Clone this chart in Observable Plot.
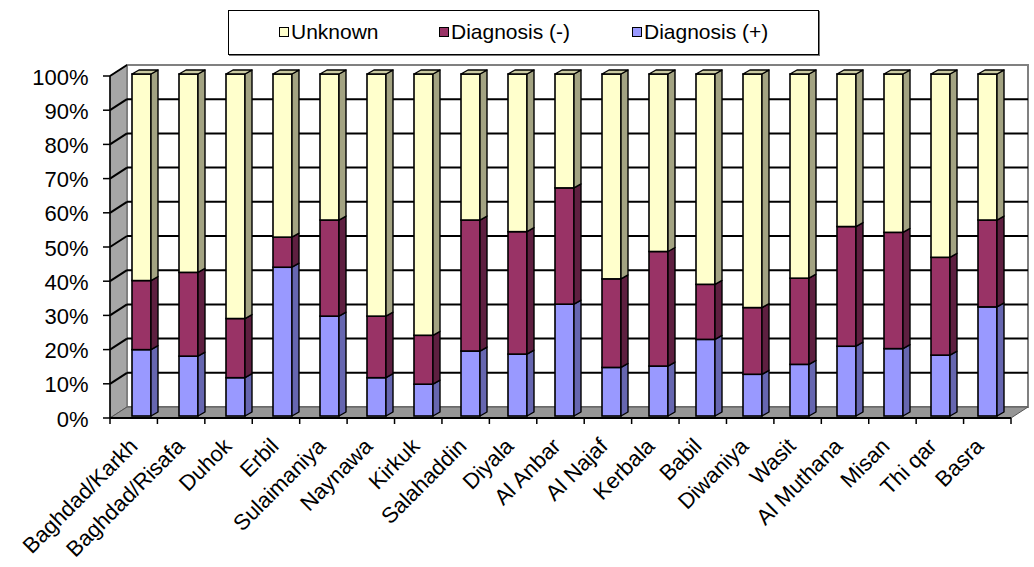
<!DOCTYPE html>
<html>
<head>
<meta charset="utf-8">
<script src="https://cdn.jsdelivr.net/npm/d3@7"></script>
<script src="https://cdn.jsdelivr.net/npm/@observablehq/plot@0.6"></script>
<style>
  html, body { margin: 0; padding: 0; background: #fff; }
  body { width: 1034px; height: 567px; overflow: hidden; font-family: "Liberation Sans", Arial, sans-serif; }
  #legend { position: relative; width: 1034px; height: 60px; }
  #legend .box { position: absolute; left: 228px; top: 10px; width: 589px; height: 43px;
    border: 1px solid #000; box-shadow: 1px 1px 0 #777; background: #fff; }
  #legend .item { position: absolute; top: 20px; font-size: 21px; line-height: 23px; color: #000; white-space: nowrap; }
  #legend .sw { display: inline-block; width: 8px; height: 8px; border: 1.5px solid #000; margin-right: 2px; vertical-align: 2px; }
  #chart svg { display: block; }
</style>
</head>
<body>
<div id="legend"></div>
<div id="chart"></div>
<script>
// Governorates along the x axis
const regions = ["Baghdad/Karkh", "Baghdad/Risafa", "Duhok", "Erbil", "Sulaimaniya", "Naynawa",
  "Kirkuk", "Salahaddin", "Diyala", "Al Anbar", "Al Najaf", "Kerbala", "Babil", "Diwaniya",
  "Wasit", "Al Muthana", "Misan", "Thi qar", "Basra"];

// Share of cases (%) in each diagnostic status, per governorate
const diagnosisPos = [19.4, 17.5, 11.2, 43.5, 29.2, 11.2, 9.3, 19.0, 18.1, 32.7, 14.2, 14.6, 22.4, 12.2, 15.1, 20.4, 19.7, 17.8, 31.9];
const diagnosisNeg = [20.2, 24.5, 17.3, 8.8, 28.1, 18.0, 14.3, 38.3, 35.8, 34.0, 25.9, 33.5, 16.1, 19.5, 25.2, 35.0, 34.0, 28.6, 25.4];
const unknown      = [60.4, 58.0, 71.5, 47.7, 42.7, 70.8, 76.4, 42.7, 46.1, 33.3, 59.9, 51.9, 61.5, 68.3, 59.7, 44.6, 46.3, 53.6, 42.7];

// Stack order (bottom to top) and legend order
const statuses = ["Diagnosis (+)", "Diagnosis (-)", "Unknown"];
const legendOrder = ["Unknown", "Diagnosis (-)", "Diagnosis (+)"];
const frontColors = ["#9999FF", "#993366", "#FFFFCC"];
const sideColors  = ["#6666B0", "#5E1F40", "#A3A382"];
const topColor = "#CCCCA3";

const yTicks = [0, 10, 20, 30, 40, 50, 60, 70, 80, 90, 100];

const series = [diagnosisPos, diagnosisNeg, unknown];
const rows = regions.flatMap((region, i) =>
  statuses.map((status, s) => ({region, status, value: series[s][i]})));

const font = "Liberation Sans, Arial, sans-serif";

// Depth offsets of the pseudo-3D box (pixels): front edge and back wall
const FRONT = [-4, 2], BACK = [13, -9], BAR_DEPTH = [7, -4];

const plot = Plot.plot({
  width: 1034,
  height: 507,
  marginLeft: 114,
  marginRight: 19,
  marginTop: 14,
  marginBottom: 151,
  style: {fontFamily: font, background: "transparent", overflow: "visible"},
  x: {domain: regions, paddingInner: 0.6, paddingOuter: 0.3, axis: null},
  y: {domain: [0, 100], axis: null},
  color: {domain: statuses, range: frontColors},
  marks: [
    Plot.barY(rows, {x: "region", y: "value", fill: "status", stroke: "#000", strokeWidth: 1.6}),
    Plot.text(yTicks, {y: d => d, text: d => d + "%", frameAnchor: "left", textAnchor: "end",
      dx: -26, dy: FRONT[1] + 1, fontSize: 22, fill: "#000"}),
    Plot.text(regions, {x: d => d, text: d => d, frameAnchor: "bottom", textAnchor: "end",
      rotate: -45, dx: -3, dy: 31, fontSize: 22, fill: "#000"})
  ]
});

document.getElementById("chart").appendChild(plot);

// Pseudo-3D walls, floor, gridlines and bar side faces, positioned with the plot's scales
const xs = plot.scale("x"), ys = plot.scale("y");
const [X0, X1] = xs.range;
const Y = v => ys.apply(v);
const svg = d3.select(plot);
const pts = a => a.map(p => p.join(",")).join(" ");

const back = svg.insert("g", "g");
const y0 = Y(0), y100 = Y(100);
// left side wall
back.append("polygon")
  .attr("points", pts([[X0 + FRONT[0], y0 + FRONT[1]], [X0 + FRONT[0], y100 + FRONT[1]],
    [X0 + BACK[0], y100 + BACK[1]], [X0 + BACK[0], y0 + BACK[1]]]))
  .attr("fill", "#A6A6A6").attr("stroke", "#555").attr("stroke-width", 1);
// back wall
back.append("polygon")
  .attr("points", pts([[X0 + BACK[0], y100 + BACK[1]], [X1 + BACK[0], y100 + BACK[1]],
    [X1 + BACK[0], y0 + BACK[1]], [X0 + BACK[0], y0 + BACK[1]]]))
  .attr("fill", "#fff").attr("stroke", "#808080").attr("stroke-width", 2);
// floor
back.append("polygon")
  .attr("points", pts([[X0 + FRONT[0], y0 + FRONT[1]], [X1 + FRONT[0], y0 + FRONT[1]],
    [X1 + BACK[0], y0 + BACK[1]], [X0 + BACK[0], y0 + BACK[1]]]))
  .attr("fill", "#969696").attr("stroke", "#555").attr("stroke-width", 1);
// gridlines on the back and side walls
for (const v of yTicks.slice(1, -1)) {
  back.append("line")
    .attr("x1", X0 + BACK[0]).attr("x2", X1 + BACK[0])
    .attr("y1", Y(v) + BACK[1]).attr("y2", Y(v) + BACK[1])
    .attr("stroke", "#000").attr("stroke-width", 2);
}
for (const v of yTicks.slice(1)) {
  back.append("line")
    .attr("x1", X0 + FRONT[0]).attr("x2", X0 + BACK[0])
    .attr("y1", Y(v) + FRONT[1]).attr("y2", Y(v) + BACK[1])
    .attr("stroke", "#000").attr("stroke-width", 2);
}
// front axes
back.append("line")
  .attr("x1", X0 + FRONT[0]).attr("x2", X0 + FRONT[0])
  .attr("y1", y0 + FRONT[1]).attr("y2", y100 + FRONT[1])
  .attr("stroke", "#000").attr("stroke-width", 1.5);
for (const v of yTicks) {
  back.append("line")
    .attr("x1", X0 + FRONT[0] - 7).attr("x2", X0 + FRONT[0])
    .attr("y1", Y(v) + FRONT[1]).attr("y2", Y(v) + FRONT[1])
    .attr("stroke", "#000").attr("stroke-width", 1.5);
}
back.append("line")
  .attr("x1", X0 + FRONT[0]).attr("x2", X1 + FRONT[0])
  .attr("y1", y0 + FRONT[1]).attr("y2", y0 + FRONT[1])
  .attr("stroke", "#000").attr("stroke-width", 2);
const step = (X1 - X0) / regions.length;
for (let k = 0; k <= regions.length; k++) {
  const x = X0 + FRONT[0] + k * step;
  back.append("line")
    .attr("x1", x).attr("x2", x)
    .attr("y1", y0 + FRONT[1]).attr("y2", y0 + FRONT[1] + 6)
    .attr("stroke", "#000").attr("stroke-width", 1.5);
}

// side and top faces of every stacked bar
const faces = svg.append("g").attr("stroke", "#000").attr("stroke-width", 1.4).attr("stroke-linejoin", "round");
regions.forEach((region, i) => {
  const xl = xs.apply(region), xr = xl + xs.bandwidth;
  let acc = 0;
  series.forEach((vals, s) => {
    const a = Y(acc), b = Y(acc + vals[i]);
    acc += vals[i];
    faces.append("polygon")
      .attr("points", pts([[xr, a], [xr + BAR_DEPTH[0], a + BAR_DEPTH[1]],
        [xr + BAR_DEPTH[0], b + BAR_DEPTH[1]], [xr, b]]))
      .attr("fill", sideColors[s]);
  });
  const t = Y(acc);
  faces.append("polygon")
    .attr("points", pts([[xl, t], [xl + BAR_DEPTH[0], t + BAR_DEPTH[1]],
      [xr + BAR_DEPTH[0], t + BAR_DEPTH[1]], [xr, t]]))
    .attr("fill", topColor);
});

// legend
const legend = d3.select("#legend");
legend.append("div").attr("class", "box");
const itemX = {"Unknown": 279, "Diagnosis (-)": 439, "Diagnosis (+)": 632};
legendOrder.forEach(name => {
  const item = legend.append("div").attr("class", "item").style("left", itemX[name] + "px");
  item.append("span").attr("class", "sw").style("background", frontColors[statuses.indexOf(name)]);
  item.append("span").text(name);
});
</script>
</body>
</html>
